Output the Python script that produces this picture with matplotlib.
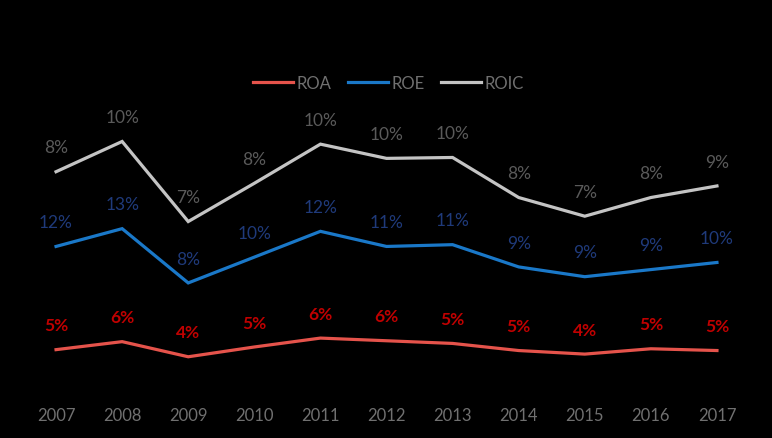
import numpy as np
import matplotlib.pyplot as plt

years = ['2007', '2008', '2009', '2010', '2011', '2012', '2013', '2014', '2015', '2016', '2017']
roa = [4.7, 5.6, 3.9, 5.0, 6.0, 5.7, 5.4, 4.6, 4.2, 4.8, 4.6]
roe = [11.6, 12.7, 8.3, 10.1, 12.0, 10.6, 11.1, 9.4, 8.7, 8.9, 9.9]
roic = [8.4, 9.8, 6.9, 8.3, 9.8, 9.9, 9.8, 7.8, 6.8, 8.1, 8.6]

names = ['ROA', 'ROE', 'ROIC']
line_colors = ['#e5534b', '#1a78c8', '#c4c4c4']
label_colors = ['#c00000', '#1f3a7a', '#5a5a5a']
label_weights = ['bold', 'normal', 'normal']

plt.rcParams['font.family'] = ['Lato', 'DejaVu Sans']

fig = plt.figure(figsize=(7.72, 4.39), dpi=100, facecolor='black')
ax = fig.add_axes([0.0298, 0.106, 0.9417, 0.6485])
ax.set_facecolor('black')

x = np.arange(len(years))
series = [roa, roe, roic]
stacked = np.cumsum(np.array(series), axis=0)  # stacked line chart

for vals, top, name, lc, tc, fw in zip(series, stacked, names, line_colors, label_colors, label_weights):
    ax.plot(x, top, color=lc, lw=2.3, label=name, solid_joinstyle='miter')
    for xi, yi, v in zip(x, top, vals):
        ax.annotate('%d%%' % round(v), (xi, yi), xytext=(0, 17.5), textcoords='offset points',
                    ha='center', va='center', color=tc, fontsize=12.5, fontweight=fw)

ax.set_xlim(-0.5, len(years) - 0.5)
ax.set_ylim(0, 32)
ax.set_xticks(x)
ax.set_xticklabels(years)
ax.tick_params(axis='x', length=0, pad=11, labelsize=12, labelcolor='#707070')
ax.set_yticks([])
for s in ax.spines.values():
    s.set_visible(False)

leg = fig.legend(loc='center', bbox_to_anchor=(0.503, 0.809), ncol=3, frameon=False,
                 fontsize=12, handlelength=2.4, handletextpad=0.2, columnspacing=1.0)
for t in leg.get_texts():
    t.set_color('#707070')

fig.savefig('out.png', dpi=100, facecolor='black')
